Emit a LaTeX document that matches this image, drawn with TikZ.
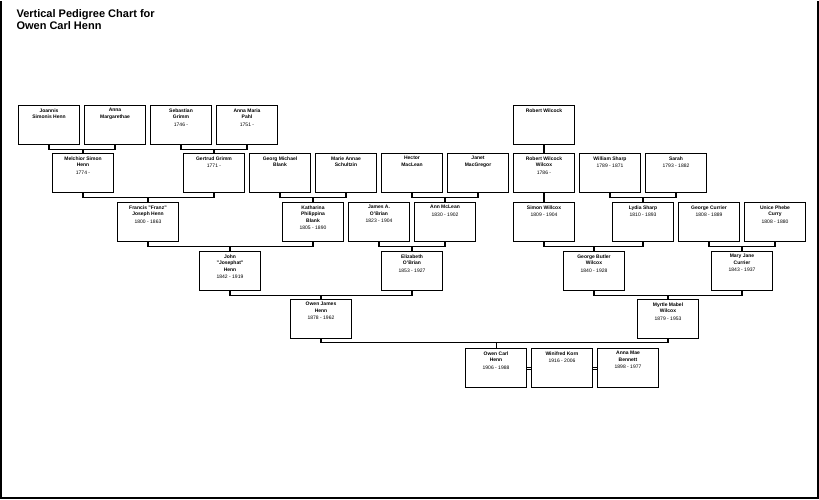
\documentclass[tikz,border=0pt]{standalone}
\usepackage{fontspec}
\setmainfont{Liberation Sans}
\usetikzlibrary{calc}
\tikzstyle{person}=[
  draw,
  thick,
  inner sep=1pt,
  font=\fontsize{5}{6.5}\selectfont,
  ]
\tikzstyle{link}=[ line width=1.1pt, ]
\newcommand{\pers}[2]{\parbox[c][37pt][t]{59pt}{\vspace{2pt}\centering\textbf{#1}\\[1pt]#2}}

\begin{document}
\begin{tikzpicture}[x=1pt,y=-1pt]
    \draw[line width=2pt] (1,0) -- (1,497) -- (818,497) -- (818,0);
    \useasboundingbox (0,0) rectangle (819,498);
    \node[anchor=north west,align=left,font=\bfseries\fontsize{11}{12}\selectfont] (title) at (13,5) {Vertical Pedigree Chart for\\Owen Carl Henn};

    % great-great-grandparents
    \node[person] (joannis) at (49,124) {\pers{Joannis\\Simonis Henn}{}};
    \node[person] (annam) at (115,124) {\pers{Anna\\Margarethae}{}};
    \node[person] (sebastian) at (181,124) {\pers{Sebastian\\Grimm}{1746 -}};
    \node[person] (annapahl) at (247,124) {\pers{Anna Maria\\Pahl}{1751 -}};
    \node[person] (robert) at (544,124) {\pers{Robert Wilcock}{}};

    % row 2
    \node[person] (melchior) at (83,172) {\pers{Melchior Simon\\Henn}{1774 -}};
    \node[person] (gertrud) at (214,172) {\pers{Gertrud Grimm}{1771 -}};
    \node[person] (georg) at (280,172) {\pers{Georg Michael\\Blank}{}};
    \node[person] (marie) at (346,172) {\pers{Marie Annae\\Schultzin}{}};
    \node[person] (hector) at (412,172) {\pers{Hector\\MacLean}{}};
    \node[person] (janet) at (478,172) {\pers{Janet\\MacGregor}{}};
    \node[person] (robertw) at (544,172) {\pers{Robert Wilcock\\Wilcox}{1786 -}};
    \node[person] (william) at (610,172) {\pers{William Sharp}{1789 - 1871}};
    \node[person] (sarah) at (676,172) {\pers{Sarah}{1793 - 1882}};
    \draw[link] (joannis.south) -- ++(0,5) -| (annam.south);
    \draw[link] (melchior.north) -- ($(melchior.north |- joannis.south)+(0,5)$);
    \draw[link] (sebastian.south) -- ++(0,5) -| (annapahl.south);
    \draw[link] (gertrud.north) -- ($(gertrud.north |- sebastian.south)+(0,5)$);
    \draw[link] (robert) -- (robertw);

    % row 3
    \node[person] (francis) at (148,221) {\pers{Francis "Franz"\\Joseph Henn}{1800 - 1863}};
    \node[person] (katharina) at (313,221) {\pers{Katharina\\Philippina\\Blank}{1805 - 1890}};
    \node[person] (james) at (379,221) {\pers{James A.\\O'Brian}{1823 - 1904}};
    \node[person] (ann) at (445,221) {\pers{Ann McLean}{1830 - 1902}};
    \node[person] (simon) at (544,221) {\pers{Simon Willcox}{1809 - 1904}};
    \node[person] (lydia) at (643,221) {\pers{Lydia Sharp}{1810 - 1893}};
    \node[person] (george) at (709,221) {\pers{George Currier}{1808 - 1889}};
    \node[person] (unice) at (775,221) {\pers{Unice Phebe\\Curry}{1808 - 1880}};
    \draw[link] (melchior.south) -- ++(0,5) -| (gertrud.south);
    \draw[link] (francis.north) -- ($(francis.north |- melchior.south)+(0,5)$);
    \draw[link] (georg.south) -- ++(0,5) -| (marie.south);
    \draw[link] (katharina.north) -- ($(katharina.north |- georg.south)+(0,5)$);
    \draw[link] (hector.south) -- ++(0,5) -| (janet.south);
    \draw[link] (ann.north) -- ($(ann.north |- hector.south)+(0,5)$);
    \draw[link] (robertw) -- (simon);
    \draw[link] (william.south) -- ++(0,5) -| (sarah.south);
    \draw[link] (lydia.north) -- ($(lydia.north |- william.south)+(0,5)$);

    % row 4
    \node[person] (john) at (230,270) {\pers{John\\"Josephat"\\Henn}{1842 - 1919}};
    \node[person] (elizabeth) at (412,270) {\pers{Elizabeth\\O'Brian}{1853 - 1927}};
    \node[person] (georgeb) at (594,270) {\pers{George Butler\\Wilcox}{1840 - 1928}};
    \node[person] (mary) at (742,270) {\pers{Mary Jane\\Currier}{1843 - 1937}};
    \draw[link] (francis.south) -- ++(0,5) -| (katharina.south);
    \draw[link] (john.north) -- ($(john.north |- francis.south)+(0,5)$);
    \draw[link] (james.south) -- ++(0,5) -| (ann.south);
    \draw[link] (elizabeth.north) -- ($(elizabeth.north |- james.south)+(0,5)$);
    \draw[link] (simon.south) -- ++(0,5) -| (lydia.south);
    \draw[link] (georgeb.north) -- ($(georgeb.north |- simon.south)+(0,5)$);
    \draw[link] (george.south) -- ++(0,5) -| (unice.south);
    \draw[link] (mary.north) -- ($(mary.north |- george.south)+(0,5)$);

    % row 5
    \node[person] (owenj) at (321,318) {\pers{Owen James\\Henn}{1878 - 1962}};
    \node[person] (myrtle) at (668,318) {\pers{Myrtle Mabel\\Wilcox}{1879 - 1953}};
    \draw[link] (john.south) -- ++(0,5) -| (elizabeth.south);
    \draw[link] (owenj.north) -- ($(owenj.north |- john.south)+(0,5)$);
    \draw[link] (georgeb.south) -- ++(0,5) -| (mary.south);
    \draw[link] (myrtle.north) -- ($(myrtle.north |- georgeb.south)+(0,5)$);

    % Owen Carl and spouses
    \node[person] (owenc) at (496,367) {\pers{Owen Carl\\Henn}{1906 - 1988}};
    \node[person] (winifred) at (562,367) {\pers{Winifred Korn}{1916 - 2006}};
    \node[person] (annamae) at (628,367) {\pers{Anna Mae\\Bennett}{1898 - 1977}};
    \draw[link] (owenj.south) -- ++(0,4) -| (myrtle.south);
    \draw[very thin] (owenc.north) -- ($(owenc.north |- owenj.south)+(0,4)$);
    \draw[thin] ($(owenc.east)+(0,-1.2)$) -- ($(winifred.west)+(0,-1.2)$);
    \draw[thin] ($(owenc.east)+(0,1.2)$) -- ($(winifred.west)+(0,1.2)$);
    \draw[thin] ($(winifred.east)+(0,-1.2)$) -- ($(annamae.west)+(0,-1.2)$);
    \draw[thin] ($(winifred.east)+(0,1.2)$) -- ($(annamae.west)+(0,1.2)$);
\end{tikzpicture}
\end{document}
